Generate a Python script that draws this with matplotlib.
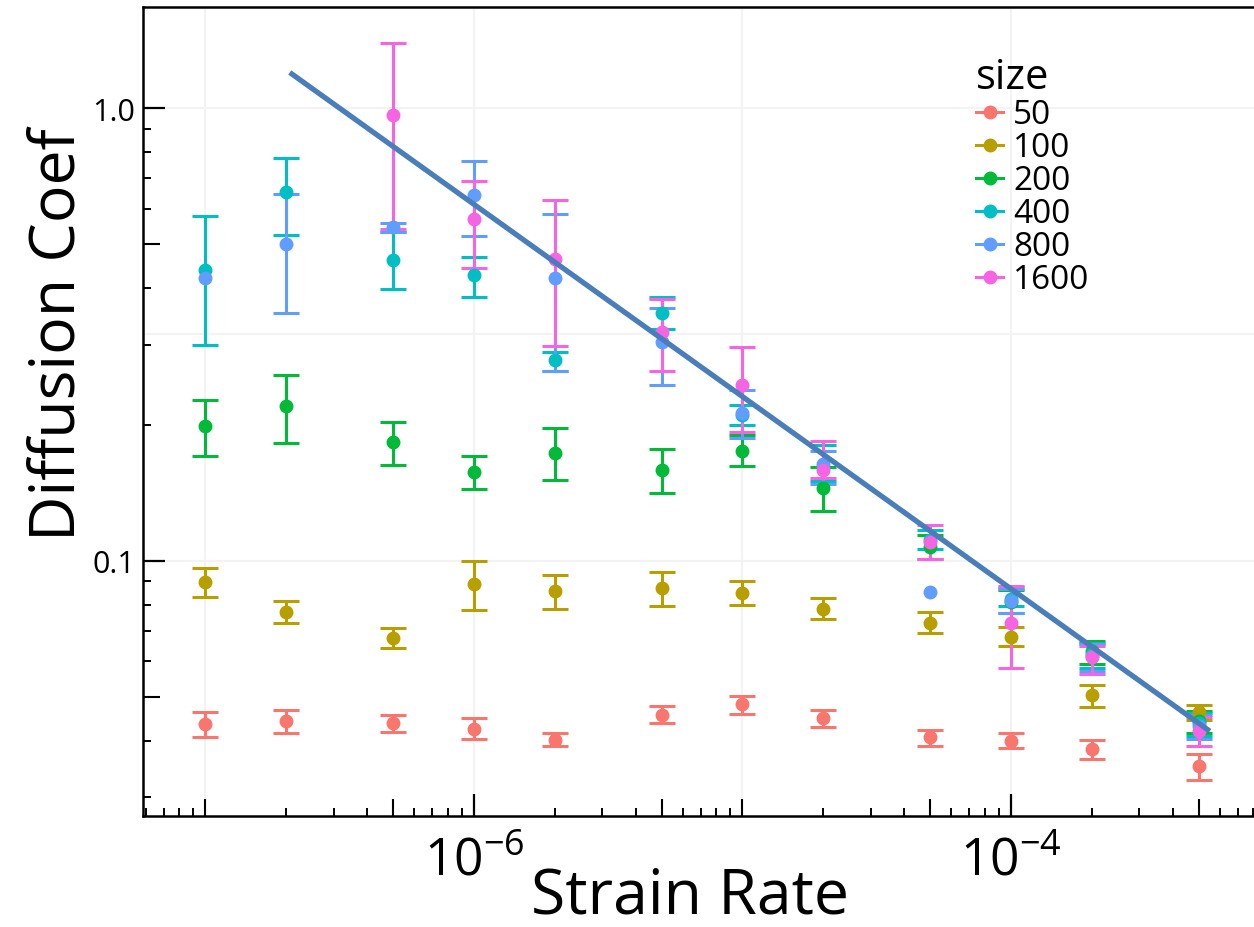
import matplotlib
matplotlib.use("Agg")
import matplotlib.pyplot as plt
from matplotlib.lines import Line2D
from matplotlib.ticker import FixedLocator, NullLocator, NullFormatter, LogLocator
import numpy as np

nan = np.nan

# strain rates (x) shared by all sizes
strain_rate = [1e-7, 2e-7, 5e-7, 1e-6, 2e-6, 5e-6, 1e-5, 2e-5, 5e-5, 1e-4, 2e-4, 5e-4]

# diffusion coefficient per system size: value, upper and lower error bound
d50 = [0.0436, 0.0442, 0.0437, 0.0425, 0.0401, 0.0457, 0.0481, 0.0449, 0.0407, 0.0400, 0.0384, 0.0351]
d50_hi = [0.0462, 0.0467, 0.0456, 0.0448, 0.0415, 0.0477, 0.0503, 0.0467, 0.0423, 0.0416, 0.0402, 0.0373]
d50_lo = [0.0408, 0.0416, 0.0418, 0.0404, 0.0389, 0.0438, 0.0459, 0.0430, 0.0390, 0.0385, 0.0364, 0.0328]

d100 = [0.0899, 0.0772, 0.0676, 0.0888, 0.0857, 0.0869, 0.0850, 0.0783, 0.0728, 0.0679, 0.0505, 0.0462]
d100_hi = [0.0965, 0.0813, 0.0709, 0.0997, 0.0929, 0.0944, 0.0900, 0.0825, 0.0769, 0.0713, 0.0531, 0.0480]
d100_lo = [0.0832, 0.0728, 0.0641, 0.0778, 0.0783, 0.0796, 0.0799, 0.0742, 0.0691, 0.0647, 0.0474, 0.0444]

d200 = [0.198, 0.220, 0.183, 0.157, 0.173, 0.159, 0.175, 0.145, 0.107, 0.0811, 0.0632, 0.0442]
d200_hi = [0.227, 0.257, 0.203, 0.170, 0.196, 0.177, 0.190, 0.161, 0.114, 0.0861, 0.0666, 0.0465]
d200_lo = [0.170, 0.182, 0.163, 0.144, 0.151, 0.141, 0.162, 0.129, 0.101, 0.0766, 0.0591, 0.0416]

d400 = [0.440, 0.652, 0.462, 0.427, 0.278, 0.353, 0.210, 0.161, 0.111, 0.0823, 0.0622, 0.0438]
d400_hi = [0.577, 0.775, 0.532, 0.470, 0.290, 0.383, 0.221, 0.180, 0.117, 0.0875, 0.0658, 0.0461]
d400_lo = [0.300, 0.525, 0.398, 0.383, 0.263, 0.326, 0.199, 0.150, 0.106, 0.0794, 0.0579, 0.0410]

d800 = [0.421, 0.500, 0.546, 0.643, 0.422, 0.304, 0.212, 0.164, 0.0854, 0.0816, 0.0616, 0.0431]
d800_hi = [nan, 0.647, 0.558, 0.763, 0.585, 0.361, 0.238, 0.175, nan, 0.0866, 0.0654, 0.0456]
d800_lo = [nan, 0.352, 0.533, 0.522, 0.263, 0.244, 0.187, 0.148, nan, 0.0766, 0.0570, 0.0404]

d1600 = [nan, nan, 0.967, 0.568, 0.464, 0.320, 0.245, 0.159, 0.110, 0.0728, 0.0612, 0.0421]
d1600_hi = [nan, nan, 1.394, 0.692, 0.627, 0.378, 0.296, 0.184, 0.120, 0.0881, 0.0649, 0.0451]
d1600_lo = [nan, nan, 0.541, 0.444, 0.299, 0.263, 0.193, 0.152, 0.101, 0.0578, 0.0562, 0.0390]

sizes = ["50", "100", "200", "400", "800", "1600"]
colors = ["#F8766D", "#B79F00", "#00BA38", "#00BFC4", "#619CFF", "#F564E3"]
series = [
    (d50, d50_lo, d50_hi),
    (d100, d100_lo, d100_hi),
    (d200, d200_lo, d200_hi),
    (d400, d400_lo, d400_hi),
    (d800, d800_lo, d800_hi),
    (d1600, d1600_lo, d1600_hi),
]

# hand-drawn power-law guide line
fit_x = [2.06e-7, 5.5e-4]
fit_y = [1.20, 0.042]

plt.rcParams["font.family"] = ["Open Sans", "DejaVu Sans"]
plt.rcParams["mathtext.fontset"] = "custom"
plt.rcParams["mathtext.rm"] = "Open Sans"
plt.rcParams["mathtext.it"] = "Open Sans:italic"
plt.rcParams["mathtext.bf"] = "Open Sans:bold"

W, H = 1254, 928
fig = plt.figure(figsize=(W / 100, H / 100), dpi=100)
ax = fig.add_axes([143.3 / W, 1 - 817 / H, (1262 - 143.3) / W, (817 - 8.3) / H])
ax.set_xscale("log")
ax.set_yscale("log")
ax.set_xlim(5.866e-8, 8.607e-4)
ax.set_ylim(0.02727, 1.672)

# faint grid
for gx in [1e-7, 1e-6, 1e-5, 1e-4]:
    ax.axvline(gx, color="#F3F3F3", lw=1.5, zorder=0)
for gy in [0.1, 10 ** -0.5, 1.0]:
    ax.axhline(gy, color="#F3F3F3", lw=1.5, zorder=0)

x = np.array(strain_rate)
for (vals, lo, hi), c in zip(series, colors):
    v = np.array(vals)
    err = [v - np.array(lo), np.array(hi) - v]
    ax.errorbar(x, v, yerr=err, fmt="o", color=c, ms=9, elinewidth=2.2,
                capsize=9.5, capthick=2.2, zorder=3)

ax.plot(fit_x, fit_y, color="#4A7EBB", lw=3.8, solid_capstyle="butt", zorder=5)

# axes frame and ticks
for s in ["left", "top", "bottom"]:
    ax.spines[s].set_linewidth(1.8)
ax.spines["right"].set_visible(False)

ax.xaxis.set_major_locator(FixedLocator([1e-6, 1e-4]))
ax.set_xticklabels([r"$\mathregular{10^{-6}}$", r"$\mathregular{10^{-4}}$"])
ax.xaxis.set_minor_locator(LogLocator(base=10, subs=np.arange(1, 10), numticks=30))
ax.xaxis.set_minor_formatter(NullFormatter())
ax.yaxis.set_major_locator(FixedLocator([0.1, 1.0]))
ax.set_yticklabels(["0.1", "1.0"])
ax.yaxis.set_minor_locator(FixedLocator([0.03, 0.04, 0.05, 0.06, 0.07, 0.08, 0.09,
                                         0.2, 0.3, 0.4, 0.5, 0.6, 0.7, 0.8, 0.9]))
ax.yaxis.set_minor_formatter(NullFormatter())

ax.tick_params(axis="both", which="major", direction="in", length=16, width=1.6,
               top=False, right=False)
ax.tick_params(axis="both", which="minor", direction="in", length=6, width=1.4,
               top=False, right=False)
ax.tick_params(axis="x", which="major", labelsize=37, pad=14)
ax.tick_params(axis="y", which="major", labelsize=22, pad=6)

# medium-length ticks
secx = ax.secondary_xaxis("bottom")
secx.xaxis.set_major_locator(FixedLocator([1e-7, 5e-7, 5e-6, 1e-5, 5e-5, 5e-4]))
secx.xaxis.set_minor_locator(NullLocator())
secx.tick_params(direction="in", length=12, width=1.5, labelbottom=False)
secx.spines["bottom"].set_visible(False)

secy = ax.secondary_yaxis("left")
secy.yaxis.set_major_locator(FixedLocator([0.05, 0.5]))
secy.yaxis.set_minor_locator(NullLocator())
secy.tick_params(direction="in", length=12, width=1.5, labelleft=False)
secy.spines["left"].set_visible(False)

fig.text(690 / W, 1 - 914 / H, "Strain Rate", fontsize=45, ha="center", va="baseline")
fig.text(75 / W, 1 - 335 / H, "Diffusion Coef", fontsize=45, rotation=90,
         rotation_mode="anchor", ha="center", va="baseline")

handles = [Line2D([0], [0], color=c, lw=2.2, marker="o", ms=9) for c in colors]
leg = ax.legend(handles, sizes, title="size", loc="upper left",
                bbox_to_anchor=(963 / W, 1 - 44 / H), bbox_transform=fig.transFigure,
                frameon=False, fontsize=24, title_fontsize=30, handlelength=0.8,
                handletextpad=0.3, labelspacing=0.0, borderaxespad=0,
                alignment="left")

fig.savefig("out.png", dpi=100, facecolor="white")
